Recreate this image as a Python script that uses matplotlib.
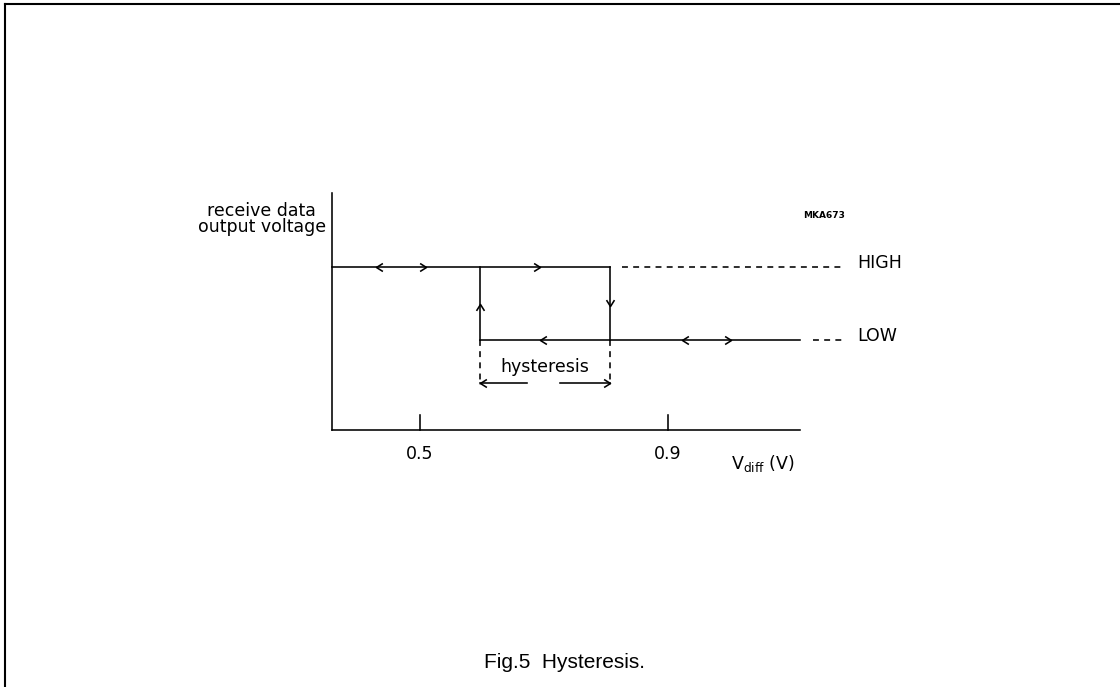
import matplotlib
matplotlib.use("Agg")
import matplotlib.pyplot as plt
from matplotlib.path import Path
from matplotlib.lines import Line2D

# switching thresholds (V)
v_up = 0.597     # LOW -> HIGH
v_down = 0.806   # HIGH -> LOW
v_start = 0.358  # left end of the axis
v_end = 1.113    # right end of the axis / LOW line
tick_values = [0.5, 0.9]
tick_labels = ["0.5", "0.9"]
levels = {"HIGH": 1.0, "LOW": 0.0}
high_arrows = [(0.429, "<"), (0.510, ">"), (0.694, ">")]
low_arrows = [(0.694, "<"), (0.923, "<"), (1.002, ">")]

# chevron markers (open arrowheads), tip at the point
d = 1.6
right = Path([(-d, 1), (0, 0), (-d, -1)], [Path.MOVETO, Path.LINETO, Path.LINETO])
left = Path([(d, 1), (0, 0), (d, -1)], [Path.MOVETO, Path.LINETO, Path.LINETO])
up = Path([(-1, -d), (0, 0), (1, -d)], [Path.MOVETO, Path.LINETO, Path.LINETO])
down = Path([(-1, d), (0, 0), (1, d)], [Path.MOVETO, Path.LINETO, Path.LINETO])
marks = {"<": left, ">": right, "^": up, "v": down}
ms = 9.2

fig = plt.figure(figsize=(11.2, 6.87), dpi=100)
ax = fig.add_axes([0, 0, 1, 1])
ax.set_xlim(0.5 - 420 / 620, 0.5 + 700 / 620)
ax.set_ylim((340 - 687) / 73, 340 / 73)
ax.axis("off")

lw = 1.15
fs = 12.5
hi = levels["HIGH"]
lo = levels["LOW"]
y_axis_bottom = -1.233
y_axis_top = 2.014
dash = (0, (3.7, 3.3))

# axes
ax.plot([v_start, v_start], [y_axis_bottom, y_axis_top], color="black", lw=lw)
ax.plot([v_start, v_end], [y_axis_bottom, y_axis_bottom], color="black", lw=lw)
for tv, tl in zip(tick_values, tick_labels):
    ax.plot([tv, tv], [y_axis_bottom, y_axis_bottom + 0.2], color="black", lw=lw)
    ax.text(tv, y_axis_bottom - 0.33, tl, ha="center", va="center", fontsize=fs)

# hysteresis loop
ax.plot([v_start, v_down], [hi, hi], color="black", lw=lw)
ax.plot([v_up, v_end], [lo, lo], color="black", lw=lw)
ax.plot([v_up, v_up], [lo, hi], color="black", lw=lw)
ax.plot([v_down, v_down], [lo, hi], color="black", lw=lw)
ax.plot([v_down + 0.02, 1.181], [hi, hi], color="black", lw=lw, ls=dash)
ax.plot([1.134, 1.181], [lo, lo], color="black", lw=lw, ls=dash)
ax.text(1.205, hi + 0.06, "HIGH", ha="left", va="center", fontsize=fs)
ax.text(1.205, lo + 0.06, "LOW", ha="left", va="center", fontsize=fs)

for x, k in high_arrows:
    ax.plot(x, hi, marker=marks[k], ms=ms, mfc="none", mec="black", mew=lw)
for x, k in low_arrows:
    ax.plot(x, lo, marker=marks[k], ms=ms, mfc="none", mec="black", mew=lw)
ax.plot(v_up, 0.5, marker=up, ms=ms, mfc="none", mec="black", mew=lw)
ax.plot(v_down, 0.46, marker=down, ms=ms, mfc="none", mec="black", mew=lw)

# hysteresis width marker
ax.plot([v_up, v_up], [lo, -0.62], color="black", lw=lw, ls=dash)
ax.plot([v_down, v_down], [lo, -0.62], color="black", lw=lw, ls=dash)
ax.plot([v_up, 0.673], [-0.589, -0.589], color="black", lw=lw)
ax.plot([0.726, v_down], [-0.589, -0.589], color="black", lw=lw)
ax.plot(v_up, -0.589, marker=left, ms=ms, mfc="none", mec="black", mew=lw)
ax.plot(v_down, -0.589, marker=right, ms=ms, mfc="none", mec="black", mew=lw)
ax.text((v_up + v_down) / 2, -0.37, "hysteresis", ha="center", va="center", fontsize=fs)

# labels
ax.text(0.245, 1.66, "receive data\noutput voltage", ha="center", va="center",
        fontsize=fs, linespacing=0.9)
ax.text(1.152, 1.70, "MKA673", ha="center", va="center", fontsize=6.5, fontweight="bold")
ax.text(1.053, -1.685, r"V$_{\mathregular{diff}}$ (V)", ha="center", va="center", fontsize=fs)

fig.text(565 / 1120, 1 - 662 / 687, "Fig.5  Hysteresis.", ha="center", va="center",
         fontsize=15, family="Liberation Sans")

# page frame (top and left edges only)
fig.add_artist(Line2D([5 / 1120, 1], [1 - 4 / 687, 1 - 4 / 687], color="black", lw=1.5))
fig.add_artist(Line2D([5 / 1120, 5 / 1120], [0, 1 - 4 / 687], color="black", lw=1.5))

fig.savefig("out.png", dpi=100)
